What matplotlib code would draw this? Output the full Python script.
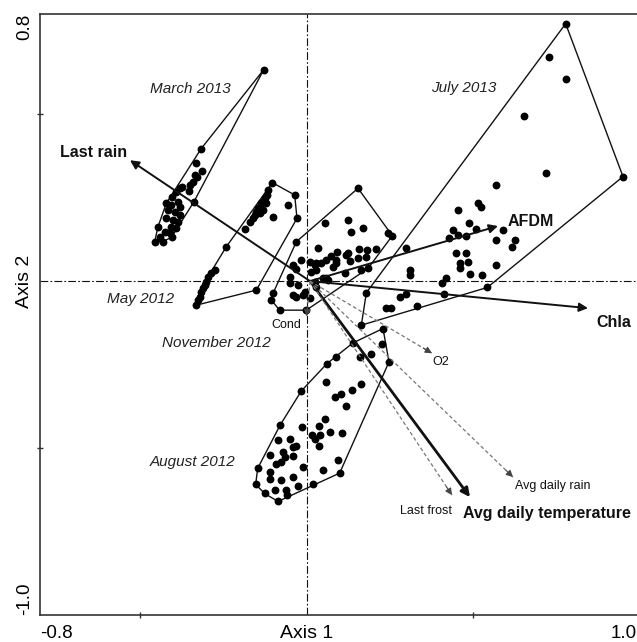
import numpy as np
import matplotlib.pyplot as plt

plt.rcParams['font.family'] = ['Liberation Sans', 'DejaVu Sans']

# sample scores (Axis 1, Axis 2) per sampling date
march13_x = [-0.129, -0.317, -0.331, -0.313, -0.336, -0.328, -0.341, -0.351, -0.354, -0.373,
             -0.381, -0.391, -0.404, -0.421, -0.406, -0.386, -0.381, -0.416, -0.396, -0.381,
             -0.421, -0.401, -0.386, -0.406, -0.391, -0.446, -0.426, -0.411, -0.441, -0.431,
             -0.456, -0.338, -0.405]
march13_y = [0.633, 0.396, 0.355, 0.331, 0.318, 0.313, 0.298, 0.288, 0.271, 0.283,
             0.278, 0.268, 0.253, 0.233, 0.228, 0.238, 0.223, 0.213, 0.208, 0.198,
             0.188, 0.183, 0.178, 0.163, 0.158, 0.163, 0.148, 0.143, 0.133, 0.118,
             0.118, 0.238, 0.132]

may12_x = [-0.103, -0.036, -0.029, -0.151, -0.331, -0.241, -0.116, -0.119, -0.126, -0.131,
           -0.136, -0.141, -0.146, -0.151, -0.156, -0.161, -0.169, -0.121, -0.131, -0.141,
           -0.101, -0.056, -0.186, -0.276, -0.286, -0.296, -0.301, -0.306, -0.311, -0.316,
           -0.321, -0.326]
may12_y = [0.295, 0.258, 0.188, -0.027, -0.072, 0.103, 0.273, 0.258, 0.248, 0.238,
           0.233, 0.223, 0.218, 0.208, 0.198, 0.188, 0.178, 0.233, 0.213, 0.203,
           0.193, 0.228, 0.155, 0.033, 0.023, 0.013, -0.002, -0.012, -0.022, -0.032,
           -0.047, -0.057]

nov12_x = [0.154, 0.244, 0.257, 0.054, 0.124, 0.134, 0.169, 0.034, 0.092, 0.124,
           0.157, 0.181, 0.207, 0.154, 0.179, 0.129, 0.074, 0.057, 0.042, 0.024,
           0.011, -0.016, -0.041, -0.031, 0.079, 0.089, 0.029, 0.014, 0.059, 0.114,
           0.164, 0.184, -0.051, -0.051, -0.026, 0.024, 0.029, -0.101, -0.106, -0.041,
           -0.011, 0.009, -0.031, -0.081, -0.001, -0.031, 0.089, 0.119, 0.049, 0.064,
           0.029, -0.006]
nov12_y = [0.278, 0.143, 0.136, 0.175, 0.183, 0.148, 0.158, 0.098, 0.088, 0.083,
           0.096, 0.093, 0.095, 0.068, 0.073, 0.061, 0.075, 0.063, 0.053, 0.048,
           0.058, 0.063, 0.048, 0.035, 0.043, 0.053, 0.033, 0.028, 0.008, 0.023,
           0.033, 0.038, 0.013, -0.007, -0.012, -0.002, -0.017, -0.037, -0.057, -0.042,
           -0.042, -0.052, -0.047, -0.087, -0.087, 0.118, 0.063, 0.078, 0.008, 0.003,
           0.053, -0.033]

july13_x = [0.777, 0.727, 0.779, 0.652, 0.949, 0.719, 0.567, 0.514, 0.524, 0.454,
            0.486, 0.439, 0.454, 0.479, 0.509, 0.428, 0.589, 0.569, 0.624, 0.617,
            0.297, 0.449, 0.479, 0.459, 0.459, 0.484, 0.567, 0.489, 0.526, 0.309,
            0.311, 0.417, 0.407, 0.542, 0.179, 0.279, 0.297, 0.411, 0.331, 0.239,
            0.254, 0.164]
july13_y = [0.771, 0.671, 0.606, 0.495, 0.313, 0.323, 0.288, 0.233, 0.221, 0.213,
            0.173, 0.153, 0.138, 0.135, 0.155, 0.130, 0.153, 0.123, 0.123, 0.103,
            0.098, 0.083, 0.083, 0.053, 0.038, 0.058, 0.048, 0.021, 0.018, 0.033,
            0.018, 0.008, -0.007, -0.019, -0.035, -0.047, -0.039, -0.039, -0.075, -0.082,
            -0.082, -0.132]

aug12_x = [-0.147, -0.153, -0.126, -0.086, -0.060, 0.019, 0.099, 0.247, 0.229, 0.139,
           0.061, -0.016, -0.080, 0.227, 0.192, 0.159, 0.089, 0.057, 0.164, 0.137,
           0.104, 0.084, 0.117, 0.054, 0.037, -0.013, 0.071, 0.107, 0.017, 0.039,
           0.024, 0.037, -0.049, -0.086, -0.031, -0.041, -0.071, -0.111, -0.066, -0.041,
           -0.091, -0.076, -0.011, 0.094, -0.109, -0.111, -0.076, -0.041, 0.049, -0.096,
           -0.061, -0.026]
aug12_y = [-0.561, -0.609, -0.636, -0.660, -0.642, -0.609, -0.575, -0.242, -0.142, -0.185,
           -0.247, -0.329, -0.432, -0.187, -0.217, -0.227, -0.227, -0.302, -0.309, -0.327,
           -0.337, -0.347, -0.375, -0.412, -0.435, -0.437, -0.452, -0.455, -0.462, -0.462,
           -0.472, -0.495, -0.472, -0.477, -0.495, -0.497, -0.512, -0.522, -0.527, -0.525,
           -0.547, -0.542, -0.557, -0.537, -0.572, -0.592, -0.597, -0.587, -0.567, -0.627,
           -0.627, -0.615]

groups = [(march13_x, march13_y), (may12_x, may12_y), (nov12_x, nov12_y),
          (july13_x, july13_y), (aug12_x, aug12_y)]

group_names = ['March 2013', 'July 2013', 'May 2012', 'November 2012', 'August 2012']
group_lab_x = [-0.350, 0.470, -0.497, -0.270, -0.342]
group_lab_y = [0.575, 0.578, -0.054, -0.186, -0.543]

# environmental vectors
origin = (0.01, 0.0)
vec_names = ['Last rain', 'AFDM', 'Chla', 'Avg daily temperature',
             'Last frost', 'Avg daily rain', 'O2', 'Cond']
vec_x = [-0.530, 0.574, 0.844, 0.490, 0.436, 0.619, 0.376, 0.0]
vec_y = [0.362, 0.165, -0.081, -0.647, -0.641, -0.587, -0.216, -0.105]
vec_strong = [True, True, True, True, False, False, False, False]
lab_x = [-0.540, 0.603, 0.870, 0.468, 0.435, 0.624, 0.378, -0.015]
lab_y = [0.384, 0.180, -0.123, -0.696, -0.690, -0.615, -0.243, -0.132]
lab_ha = ['right', 'left', 'left', 'left', 'right', 'left', 'left', 'right']


def hull(px, py):
    pts = sorted(set(zip(px, py)))

    def cross(o, a, b):
        return (a[0] - o[0]) * (b[1] - o[1]) - (a[1] - o[1]) * (b[0] - o[0])

    lower, upper = [], []
    for p in pts:
        while len(lower) >= 2 and cross(lower[-2], lower[-1], p) <= 0:
            lower.pop()
        lower.append(p)
    for p in reversed(pts):
        while len(upper) >= 2 and cross(upper[-2], upper[-1], p) <= 0:
            upper.pop()
        upper.append(p)
    h = lower[:-1] + upper[:-1]
    h.append(h[0])
    return np.array(h)


fig = plt.figure(figsize=(6.37, 6.42), dpi=100)
ax = fig.add_axes([40 / 637, 27 / 642, 600 / 637, 601 / 642])
ax.set_xlim(-0.8, 1.0)
ax.set_ylim(-1.0, 0.8)

dashdot = (0, (7, 2, 1.5, 2))
ax.axhline(0, color='#111111', lw=0.8, ls=dashdot, zorder=1)
ax.axvline(0, color='#111111', lw=0.8, ls=dashdot, zorder=1)

for gx, gy in groups:
    h = hull(gx, gy)
    ax.plot(h[:, 0], h[:, 1], color='#111111', lw=1.0, zorder=2)
    ax.scatter(gx, gy, s=32, color='#000000', zorder=3, linewidths=0)

for name, lx, ly in zip(group_names, group_lab_x, group_lab_y):
    ax.text(lx, ly, name, fontsize=11, style='italic', color='#222222',
            ha='center', va='center')

for i, name in enumerate(vec_names):
    tip = (vec_x[i], vec_y[i])
    if vec_strong[i]:
        lw = 2.0 if name == 'Avg daily temperature' else 1.4
        ax.annotate('', xy=tip, xytext=origin, zorder=4,
                    arrowprops=dict(arrowstyle='-|>', color='#111111', lw=lw,
                                    mutation_scale=13, shrinkA=0, shrinkB=0))
        ax.text(lab_x[i], lab_y[i], name, fontsize=11.5, fontweight='bold',
                color='#111111', ha=lab_ha[i], va='center')
    else:
        ax.plot([origin[0], tip[0]], [origin[1], tip[1]], color='#777777',
                lw=0.9, ls=(0, (3, 2)), zorder=4)
        d = np.array(tip) - np.array(origin)
        start = np.array(tip) - d / np.hypot(*d) * 0.03
        ax.annotate('', xy=tip, xytext=tuple(start), zorder=4,
                    arrowprops=dict(arrowstyle='-|>', color='#444444', lw=0.8,
                                    mutation_scale=10, shrinkA=0, shrinkB=0))
        ax.text(lab_x[i], lab_y[i], name, fontsize=9, color='#111111',
                ha=lab_ha[i], va='center')

for s in ['left', 'bottom', 'top']:
    ax.spines[s].set_color('#333333')
    ax.spines[s].set_linewidth(1.2)
ax.spines['right'].set_visible(False)

ax.set_xticks([-0.5, 0.5])
ax.set_yticks([-0.5, 0.5])
ax.set_xticklabels([])
ax.set_yticklabels([])
ax.tick_params(direction='inout', length=5, width=1, color='#333333')

xt = ax.get_xaxis_transform()
yt = ax.get_yaxis_transform()
ax.text(-0.8, -0.03, '-0.8', transform=xt, fontsize=13.5, ha='left', va='center')
ax.text(0.99, -0.03, '1.0', transform=xt, fontsize=13.5, ha='right', va='center')
ax.text(0.0, -0.03, 'Axis 1', transform=xt, fontsize=14, ha='center', va='center')
ax.text(-0.026, 0.8, '0.8', transform=yt, fontsize=13.5, rotation=90, ha='center', va='top')
ax.text(-0.026, -1.0, '-1.0', transform=yt, fontsize=13.5, rotation=90, ha='center', va='bottom')
ax.text(-0.026, 0.0, 'Axis 2', transform=yt, fontsize=14, rotation=90, ha='center', va='center')

fig.savefig('out.png', dpi=100)
